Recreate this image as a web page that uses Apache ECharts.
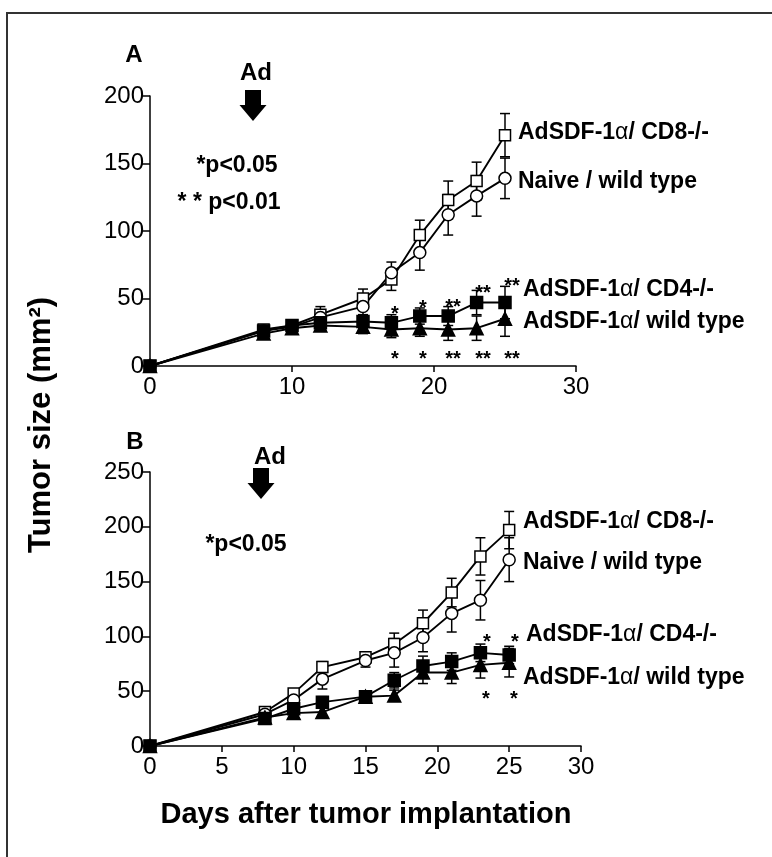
<!DOCTYPE html>
<html><head><meta charset="utf-8">
<script src="https://cdn.jsdelivr.net/npm/echarts@6/dist/echarts.min.js"></script>
<style>html,body{margin:0;padding:0;background:#fff}#c{width:772px;height:857px}</style>
</head><body><div id="c"></div>
<script>
// ---- data ----
const days = [0, 8, 10, 12, 15, 17, 19, 21, 23, 25];
const seriesNames = ['AdSDF-1α/ CD8-/-', 'Naive / wild type', 'AdSDF-1α/ CD4-/-', 'AdSDF-1α/ wild type'];
// Panel A
const aCD8   = [0, 27, 30, 38, 50, 64, 97, 123, 137, 171];
const aNaive = [0, 26, 29, 36, 44, 69, 84, 112, 126, 139];
const aCD4   = [0, 26, 30, 32, 33, 32, 37, 37, 47, 47];
const aWT    = [0, 24, 28, 30, 29, 27, 28, 27, 28, 35];
const aCD8Err   = [0, 3, 4, 6, 7, 8, 11, 14, 14, 16];
const aNaiveErr = [0, 3, 4, 5, 6, 8, 13, 15, 15, 15];
const aCD4Err   = [0, 3, 3, 4, 5, 6, 6, 7, 9, 12];
const aWTErr    = [0, 3, 3, 4, 5, 6, 6, 8, 9, 13];
// Panel B
const bCD8   = [0, 31, 48, 72, 81, 93, 112, 140, 173, 197];
const bNaive = [0, 29, 42, 61, 78, 85, 99, 121, 133, 170];
const bCD4   = [0, 25, 34, 40, 45, 60, 73, 77, 85, 83];
const bWT    = [0, 26, 30, 31, 45, 46, 67, 67, 74, 76];
const bCD8Err   = [0, 3, 4, 5, 5, 10, 12, 13, 17, 17];
const bNaiveErr = [0, 3, 5, 9, 6, 13, 13, 17, 18, 20];
const bCD4Err   = [0, 3, 4, 5, 4, 7, 9, 8, 8, 8];
const bWTErr    = [0, 3, 3, 4, 4, 5, 10, 10, 12, 13];
// axes
const aYTicks = {min: 0, max: 200, interval: 50};
const bYTicks = {min: 0, max: 250, interval: 50};
const aXTicks = {min: 0, max: 30, interval: 10};
const bXTicks = {min: 0, max: 30, interval: 5};
// significance marks
const aStarsAbove = ['*', '*', '**', '**', '**'];
const aStarsBelow = ['*', '*', '**', '**', '**'];
const bStarsAbove = ['*', '*'];
const bStarsBelow = ['*', '*'];

// ---- build ----
const FONT = "'Liberation Sans', Arial, Helvetica, sans-serif";
const chart = echarts.init(document.getElementById('c'), null, {renderer: 'canvas'});

const styles = [
  {symbol: 'rect', size: 11, fill: '#fff'},
  {symbol: 'circle', size: 12, fill: '#fff'},
  {symbol: 'rect', size: 12, fill: '#000'},
  {symbol: 'triangle', size: 13, fill: '#000'}
];

function lineSeries(idx, vals, name, st) {
  return {
    type: 'line', name: name, xAxisIndex: idx, yAxisIndex: idx,
    data: days.map((d, i) => [d, vals[i]]),
    symbol: st.symbol, symbolSize: st.size, showAllSymbol: true, clip: false,
    lineStyle: {color: '#000', width: 1.9},
    itemStyle: {color: st.fill, borderColor: '#000', borderWidth: 1.5, opacity: 1},
    z: 3, animation: false, silent: true
  };
}
function errItem(params, api) {
  const x = api.value(0), lo = api.value(1), hi = api.value(2);
  if (hi - lo <= 0) return null;
  const p1 = api.coord([x, lo]), p2 = api.coord([x, hi]);
  const w = 5, s = {stroke: '#000', lineWidth: 1.5};
  return {type: 'group', children: [
    {type: 'line', shape: {x1: p1[0], y1: p1[1], x2: p2[0], y2: p2[1]}, style: s},
    {type: 'line', shape: {x1: p2[0] - w, y1: p2[1], x2: p2[0] + w, y2: p2[1]}, style: s},
    {type: 'line', shape: {x1: p1[0] - w, y1: p1[1], x2: p1[0] + w, y2: p1[1]}, style: s}
  ]};
}
function errSeries(idx, vals, errs) {
  return {
    type: 'custom', xAxisIndex: idx, yAxisIndex: idx, renderItem: errItem,
    data: days.map((d, i) => [d, vals[i] - errs[i], vals[i] + errs[i]]),
    z: 2, animation: false, silent: true, clip: false
  };
}

const series = [];
const aSets = [[aCD8, aCD8Err], [aNaive, aNaiveErr], [aCD4, aCD4Err], [aWT, aWTErr]];
const bSets = [[bCD8, bCD8Err], [bNaive, bNaiveErr], [bCD4, bCD4Err], [bWT, bWTErr]];
aSets.forEach((s) => series.push(errSeries(0, s[0], s[1])));
bSets.forEach((s) => series.push(errSeries(1, s[0], s[1])));
aSets.forEach((s, k) => series.push(lineSeries(0, s[0], seriesNames[k], styles[k])));
bSets.forEach((s, k) => series.push(lineSeries(1, s[0], seriesNames[k], styles[k])));

function xAxis(idx, t) {
  return {
    type: 'value', gridIndex: idx, min: t.min, max: t.max, interval: t.interval,
    axisLine: {lineStyle: {color: '#000', width: 1.5}},
    axisTick: {show: true, length: 6, lineStyle: {color: '#000', width: 1.5}},
    axisLabel: {color: '#000', fontSize: 24, fontFamily: FONT, margin: 9},
    splitLine: {show: false}
  };
}
function yAxis(idx, t) {
  return {
    type: 'value', gridIndex: idx, min: t.min, max: t.max, interval: t.interval,
    axisLine: {show: true, lineStyle: {color: '#000', width: 1.5}},
    axisTick: {show: true, length: 8, lineStyle: {color: '#000', width: 1.5}},
    axisLabel: {color: '#000', fontSize: 24, fontFamily: FONT, margin: 6},
    splitLine: {show: false}
  };
}

const boldTxt = (text, x, y, size, align) => ({
  type: 'text', x: x, y: y, silent: true, z: 10,
  style: {text: text, fill: '#000', font: 'bold ' + size + 'px ' + FONT,
          textAlign: align || 'center', textVerticalAlign: 'middle'}
});
const legendTxt = (text, x, y) => {
  const parts = text.split('α');
  const rt = parts.length > 1 ? parts[0] + '{a|α}' + parts[1] : text;
  return {
    type: 'text', x: x, y: y, silent: true, z: 10,
    style: {text: rt, fill: '#000', font: 'bold 23px ' + FONT, textAlign: 'left', textVerticalAlign: 'middle',
            rich: {a: {font: 'normal 23px ' + FONT, fill: '#000'}}}
  };
};
const arrow = (cx, top) => ({
  type: 'polygon', silent: true, z: 10,
  shape: {points: [[cx - 8, top], [cx + 8, top], [cx + 8, top + 15], [cx + 13.5, top + 15],
                   [cx, top + 31], [cx - 13.5, top + 15], [cx - 8, top + 15]]},
  style: {fill: '#000'}
});

const aAboveX = [395, 423, 453, 483, 512], aAboveY = [314, 308, 307, 293, 286];
const aBelowX = [395, 423, 453, 483, 512];
const bAboveX = [487, 515], bBelowX = [486, 514];

const graphics = [
  {type: 'rect', shape: {x: 7, y: 13, width: 820, height: 900}, style: {fill: 'none', stroke: '#333', lineWidth: 2}, silent: true},
  boldTxt('A', 134, 55, 24), boldTxt('Ad', 256, 73, 24), arrow(253, 90),
  boldTxt('*p<0.05', 237, 166, 23), boldTxt('* * p<0.01', 229, 203, 23),
  legendTxt(seriesNames[0], 518, 133), legendTxt(seriesNames[1], 518, 182),
  legendTxt(seriesNames[2], 523, 290), legendTxt(seriesNames[3], 523, 322),
  boldTxt('B', 135, 442, 24), boldTxt('Ad', 270, 457, 24), arrow(261, 468),
  boldTxt('*p<0.05', 246, 545, 23),
  legendTxt(seriesNames[0], 523, 522), legendTxt(seriesNames[1], 523, 563),
  legendTxt(seriesNames[2], 526, 635), legendTxt(seriesNames[3], 523, 678),
  boldTxt('Days after tumor implantation', 366, 815, 29),
  {type: 'text', x: 41, y: 425, rotation: Math.PI / 2, silent: true, z: 10,
   style: {text: 'Tumor size (mm²)', fill: '#000', font: 'bold 31px ' + FONT, textAlign: 'center', textVerticalAlign: 'middle'}}
];
aStarsAbove.forEach((s, i) => graphics.push(boldTxt(s, aAboveX[i], aAboveY[i], 20)));
aStarsBelow.forEach((s, i) => graphics.push(boldTxt(s, aBelowX[i], 359, 20)));
bStarsAbove.forEach((s, i) => graphics.push(boldTxt(s, bAboveX[i], 642, 20)));
bStarsBelow.forEach((s, i) => graphics.push(boldTxt(s, bBelowX[i], 699, 20)));

chart.setOption({
  animation: false,
  backgroundColor: '#fff',
  textStyle: {fontFamily: FONT},
  grid: [
    {left: 150, top: 96, width: 426, height: 270, containLabel: false},
    {left: 150, top: 472, width: 431, height: 274, containLabel: false}
  ],
  xAxis: [xAxis(0, aXTicks), xAxis(1, bXTicks)],
  yAxis: [yAxis(0, aYTicks), yAxis(1, bYTicks)],
  series: series,
  graphic: graphics
});
</script></body></html>
